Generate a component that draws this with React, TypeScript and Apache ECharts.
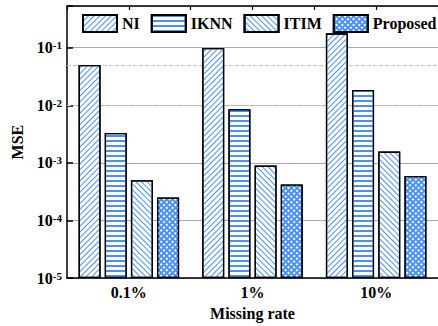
import React, { useEffect, useRef } from 'react';
import * as echarts from 'echarts';

const categories = ['0.1%', '1%', '10%'];
const seriesNames = ['NI', 'IKNN', 'ITIM', 'Proposed'];
const niValues = [0.05, 0.099, 0.177];
const iknnValues = [0.0033, 0.0085, 0.0184];
const itimValues = [0.0005, 0.0009, 0.00157];
const proposedValues = [0.00025, 0.00042, 0.00059];
const minorGridValues = [5e-5, 5e-4, 5e-3, 5e-2];
const yMin = 1e-5;
const yMax = 0.528;

const BLUE = '#4a90f5';
const FONT = 'Liberation Serif';

const decals: any[] = [
  { symbol: 'rect', symbolSize: 1, color: BLUE, dashArrayX: [1, 0], dashArrayY: [1, 3], rotation: -Math.PI / 4 },
  { symbol: 'rect', symbolSize: 1, color: BLUE, dashArrayX: [1, 0], dashArrayY: [2, 3], rotation: 0 },
  { symbol: 'rect', symbolSize: 1, color: BLUE, dashArrayX: [1, 0], dashArrayY: [1, 3], rotation: Math.PI / 4 },
  { symbol: 'rect', symbolSize: 1, color: '#ffffff', dashArrayX: [2, 2], dashArrayY: [2, 2], rotation: Math.PI / 4 },
];
const fills = ['#ffffff', '#ffffff', '#ffffff', BLUE];

export default function App() {
  const ref = useRef<HTMLDivElement>(null);
  useEffect(() => {
    if (!ref.current) return;
    const chart = echarts.init(ref.current, null, { renderer: 'svg' });
    const valueSets = [niValues, iknnValues, itimValues, proposedValues];
    const series: any[] = seriesNames.map((name, i) => {
      const s: any = {
        name,
        type: 'bar',
        data: valueSets[i],
        barWidth: 22,
        barGap: '19%',
        itemStyle: { color: fills[i], borderColor: '#000', borderWidth: 1.3, decal: decals[i] },
        emphasis: { disabled: true },
      };
      if (i === 0) {
        s.markLine = {
          silent: true,
          symbol: 'none',
          z: 1,
          label: { show: false },
          lineStyle: { color: '#c4c4c4', type: 'dashed', width: 1 },
          data: minorGridValues.map((v) => ({ yAxis: v })),
        };
      }
      return s;
    });
    const boldText = { fontFamily: FONT, fontWeight: 'bold', fontSize: 16, color: '#000' };
    chart.setOption({
      animation: false,
      grid: { left: 67, right: -5, top: 6, bottom: 39 },
      legend: {
        top: 14,
        left: 82,
        width: 400,
        padding: 0,
        icon: 'rect',
        itemWidth: 34,
        itemHeight: 17,
        itemGap: 11,
        textStyle: boldText,
        data: seriesNames,
      },
      xAxis: [
        {
          type: 'category',
          data: categories,
          position: 'bottom',
          axisLine: { lineStyle: { color: '#000', width: 1.5 } },
          axisTick: { inside: true, length: 4, lineStyle: { color: '#000', width: 1.2 } },
          axisLabel: { ...boldText, margin: 6 },
          name: 'Missing rate',
          nameLocation: 'middle',
          nameGap: 19,
          nameTextStyle: boldText,
        },
        {
          type: 'value',
          position: 'top',
          min: 0,
          max: 3,
          interval: 0.5,
          axisLine: { show: true, lineStyle: { color: '#000', width: 1.5 } },
          axisTick: { show: true, inside: true, length: 4, lineStyle: { color: '#000', width: 1.2 } },
          axisLabel: { show: false },
          splitLine: { show: false },
        },
      ],
      yAxis: {
        type: 'log',
        logBase: 10,
        min: yMin,
        max: yMax,
        startValue: yMin,
        axisLine: { show: true, lineStyle: { color: '#000', width: 1.5 } },
        axisTick: { show: true, inside: true, length: 6, lineStyle: { color: '#000', width: 1.5 } },
        splitLine: { show: true, lineStyle: { color: '#a8a8a8', width: 1 } },
        axisLabel: {
          margin: 5,
          formatter: (v: number) => {
            const e = Math.log10(v);
            const r = Math.round(e);
            if (Math.abs(e - r) > 1e-6) return '';
            return `{b|10}{s|${r}}`;
          },
          rich: {
            b: { ...boldText },
            s: { fontFamily: FONT, fontWeight: 'bold', fontSize: 11, color: '#000', verticalAlign: 'top' },
          },
        },
        name: 'MSE',
        nameLocation: 'middle',
        nameGap: 36,
        nameTextStyle: boldText,
      },
      series,
    });
    return () => chart.dispose();
  }, []);
  return <div ref={ref} style={{ position: 'fixed', left: 0, top: 0, width: 438, height: 326, background: '#fff' }} />;
}
